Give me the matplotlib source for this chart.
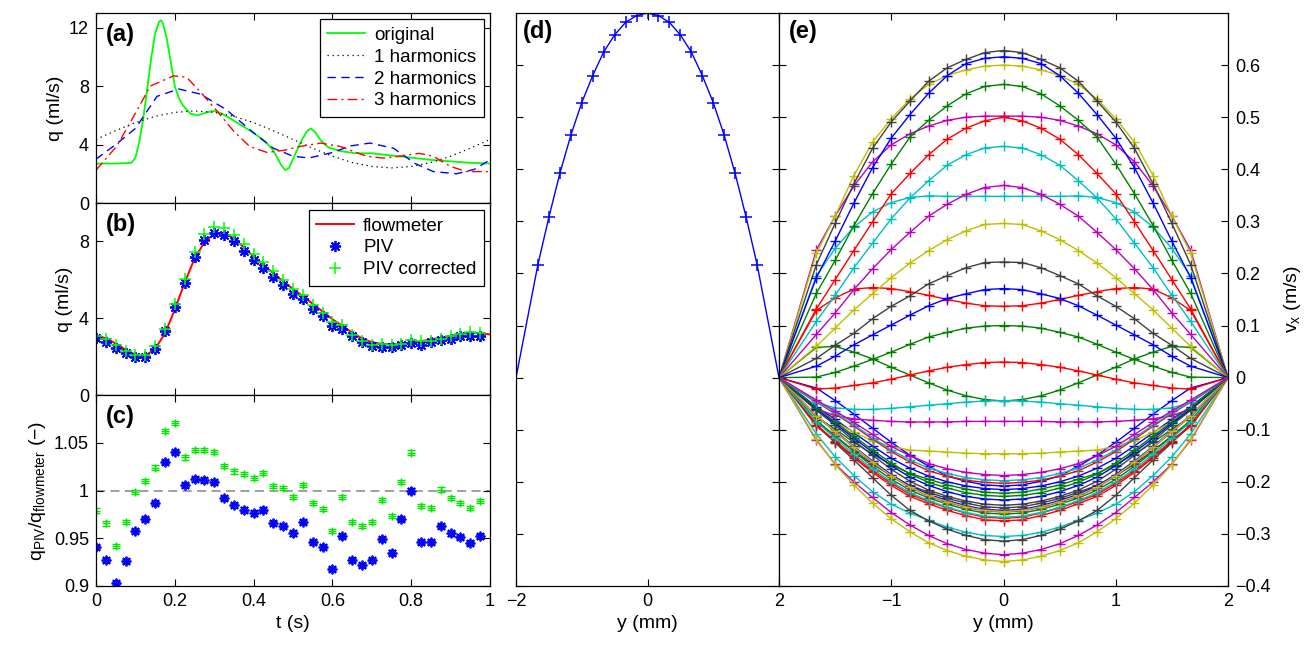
import numpy as np
import matplotlib
matplotlib.use('Agg')
import matplotlib.pyplot as plt

plt.rcParams['font.family'] = ['Liberation Sans', 'DejaVu Sans']
plt.rcParams['mathtext.default'] = 'regular'
plt.rcParams['axes.unicode_minus'] = True

# ---------------- panel (a): inlet flow rate and harmonic approximations
t_orig = [0.0, 0.05, 0.09, 0.10, 0.11, 0.12, 0.13, 0.14, 0.15, 0.16, 0.165, 0.17, 0.18, 0.19, 0.20,
          0.21, 0.22, 0.24, 0.26, 0.28, 0.30, 0.32, 0.34, 0.37, 0.40, 0.43, 0.45, 0.47, 0.48,
          0.49, 0.50, 0.52, 0.535, 0.545, 0.555, 0.57, 0.59, 0.62, 0.66, 0.70, 0.75, 0.80,
          0.85, 0.90, 0.95, 1.0]
q_orig = [2.7, 2.7, 2.75, 3.1, 4.2, 5.8, 7.8, 9.9, 11.6, 12.4, 12.5, 12.3, 11.2, 9.6, 8.0,
          7.2, 6.7, 6.1, 6.0, 6.2, 6.3, 6.1, 5.8, 5.3, 4.8, 4.2, 3.6, 2.6, 2.25,
          2.4, 3.0, 4.2, 4.9, 5.1, 4.9, 4.3, 3.8, 3.55, 3.4, 3.4, 3.25, 3.1,
          2.95, 2.85, 2.75, 2.7]
t_h1 = [0.0, 0.05, 0.10, 0.15, 0.20, 0.25, 0.30, 0.35, 0.40, 0.45, 0.50, 0.55, 0.60, 0.65,
        0.70, 0.75, 0.80, 0.85, 0.90, 0.95, 1.0]
q_h1 = [4.35, 4.95, 5.50, 5.93, 6.20, 6.30, 6.20, 5.93, 5.50, 4.95, 4.35, 3.75, 3.20, 2.77,
        2.50, 2.40, 2.50, 2.77, 3.20, 3.75, 4.35]
t_h2 = [0.0, 0.05, 0.10, 0.155, 0.21, 0.265, 0.33, 0.40, 0.45, 0.50, 0.54, 0.60, 0.645,
        0.695, 0.755, 0.81, 0.856, 0.915, 0.96, 1.0]
q_h2 = [3.0, 4.0, 5.1, 7.3, 7.8, 7.45, 6.4, 4.8, 3.75, 3.2, 3.08, 3.45, 3.9,
        4.1, 3.75, 2.7, 2.15, 2.0, 2.3, 2.95]
t_h3 = [0.0, 0.053, 0.095, 0.138, 0.197, 0.23, 0.265, 0.307, 0.35, 0.39, 0.434, 0.476,
        0.518, 0.57, 0.62, 0.687, 0.73, 0.77, 0.82, 0.856, 0.90, 0.94, 1.0]
q_h3 = [2.25, 3.9, 5.9, 8.0, 8.7, 8.6, 7.6, 6.3, 4.9, 3.87, 3.46, 3.6,
        3.87, 4.1, 3.87, 3.2, 3.07, 3.2, 3.4, 3.2, 2.5, 2.15, 2.15]

# ---------------- panel (b): flowmeter vs PIV
t_flow = [0.0, 0.025, 0.05, 0.075, 0.1, 0.125, 0.15, 0.175, 0.2, 0.225, 0.25, 0.275, 0.3,
          0.325, 0.35, 0.375, 0.4, 0.425, 0.45, 0.475, 0.5, 0.525, 0.55, 0.575, 0.6, 0.625,
          0.65, 0.675, 0.7, 0.725, 0.75, 0.775, 0.8, 0.825, 0.85, 0.875, 0.9, 0.925, 0.95,
          0.975, 1.0]
q_flow = [3.12, 2.95, 2.68, 2.36, 2.1, 2.05, 2.4, 3.2, 4.45, 5.85, 7.1, 7.95, 8.4,
          8.45, 8.15, 7.7, 7.2, 6.75, 6.35, 5.92, 5.52, 5.15, 4.75, 4.35, 3.95, 3.6,
          3.25, 2.95, 2.75, 2.66, 2.65, 2.67, 2.72, 2.8, 2.9, 2.98, 3.07, 3.17, 3.24,
          3.22, 3.15]
t_piv = np.round(np.arange(40) * 0.025, 3)
q_piv = [2.97, 2.76, 2.45, 2.18, 2.0, 2.0, 2.41, 3.32, 4.59, 5.85, 7.2, 8.05, 8.42, 8.35,
         8.0, 7.51, 7.02, 6.64, 6.17, 5.71, 5.27, 4.98, 4.5, 4.1, 3.58, 3.46, 3.06, 2.74,
         2.53, 2.5, 2.5, 2.59, 2.71, 2.62, 2.76, 2.85, 2.93, 3.06, 3.09, 3.06]
q_piv_corr = [3.06, 2.92, 2.59, 2.27, 2.1, 2.1, 2.53, 3.46, 4.72, 6.06, 7.46, 8.38, 8.73, 8.68,
              8.35, 7.86, 7.34, 6.95, 6.46, 5.97, 5.5, 5.19, 4.68, 4.28, 3.79, 3.62, 3.14, 2.79,
              2.62, 2.65, 2.62, 2.67, 2.88, 2.79, 2.83, 2.92, 3.06, 3.2, 3.27, 3.23]

# ---------------- panel (c): ratio PIV / flowmeter
ratio_piv = [0.941, 0.927, 0.903, 0.926, 0.958, 0.970, 0.987, 1.030, 1.040, 1.0055, 1.012, 1.011,
             1.009, 0.992, 0.985, 0.980, 0.976, 0.980, 0.966, 0.963, 0.955, 0.967, 0.946, 0.941,
             0.918, 0.952, 0.927, 0.922, 0.927, 0.949, 0.935, 0.970, 1.000, 0.946, 0.946, 0.963,
             0.955, 0.951, 0.945, 0.952]
ratio_corr = [0.979, 0.9655, 0.9415, 0.967, 0.9985, 1.010, 1.024, 1.0627, 1.071, 1.0346, 1.0425,
              1.042, 1.040, 1.026, 1.020, 1.017, 1.013, 1.018, 1.0045, 1.003, 0.9935, 1.006,
              0.9866, 0.981, 0.9575, 0.9935, 0.967, 0.9627, 0.967, 0.990, 0.973, 1.009, 1.0397,
              0.984, 0.982, 1.001, 0.992, 0.9866, 0.9815, 0.989]
ratio_err = 0.0022

# ---------------- panels (d), (e): velocity profiles (half profiles, centre -> wall)
y_half = [0.0, 0.167, 0.333, 0.5, 0.667, 0.833, 1.0, 1.167, 1.333, 1.5, 1.667]
y_wall = 2.0
vx_steady = [0.700, 0.695, 0.682, 0.658, 0.625, 0.580, 0.528, 0.465, 0.392, 0.308, 0.217]

vx_t000_t225 = [
    [-0.215, -0.213, -0.208, -0.200, -0.189, -0.174, -0.155, -0.131, -0.106, -0.080, -0.056],
    [-0.222, -0.220, -0.214, -0.206, -0.195, -0.184, -0.167, -0.147, -0.124, -0.099, -0.075],
    [-0.275, -0.273, -0.265, -0.255, -0.242, -0.228, -0.207, -0.182, -0.154, -0.123, -0.093],
    [-0.305, -0.303, -0.297, -0.287, -0.274, -0.260, -0.243, -0.219, -0.188, -0.152, -0.108],
    [-0.340, -0.337, -0.330, -0.319, -0.303, -0.283, -0.259, -0.230, -0.200, -0.166, -0.120],
    [-0.353, -0.350, -0.343, -0.332, -0.317, -0.296, -0.271, -0.241, -0.206, -0.167, -0.118],
    [-0.314, -0.311, -0.303, -0.291, -0.275, -0.255, -0.226, -0.192, -0.158, -0.125, -0.090],
    [-0.208, -0.206, -0.199, -0.189, -0.170, -0.149, -0.124, -0.097, -0.070, -0.044, -0.020],
    [-0.045, -0.042, -0.035, -0.024, -0.010, 0.005, 0.020, 0.036, 0.049, 0.060, 0.058],
    [0.137, 0.138, 0.143, 0.150, 0.158, 0.165, 0.171, 0.173, 0.170, 0.153, 0.129],
]
vx_t250_t475 = [
    [0.348, 0.348, 0.348, 0.348, 0.349, 0.346, 0.336, 0.318, 0.289, 0.248, 0.195],
    [0.502, 0.502, 0.500, 0.494, 0.483, 0.468, 0.447, 0.414, 0.368, 0.310, 0.245],
    [0.600, 0.598, 0.591, 0.580, 0.563, 0.535, 0.497, 0.452, 0.388, 0.310, 0.239],
    [0.628, 0.624, 0.611, 0.595, 0.569, 0.531, 0.491, 0.440, 0.372, 0.296, 0.217],
    [0.616, 0.613, 0.603, 0.580, 0.546, 0.505, 0.460, 0.403, 0.335, 0.262, 0.192],
    [0.563, 0.559, 0.545, 0.522, 0.494, 0.462, 0.410, 0.353, 0.292, 0.225, 0.162],
    [0.500, 0.493, 0.479, 0.458, 0.428, 0.392, 0.353, 0.299, 0.244, 0.188, 0.132],
    [0.444, 0.441, 0.428, 0.408, 0.378, 0.345, 0.305, 0.258, 0.211, 0.158, 0.108],
    [0.369, 0.365, 0.352, 0.333, 0.310, 0.279, 0.246, 0.209, 0.169, 0.124, 0.083],
    [0.296, 0.294, 0.282, 0.265, 0.244, 0.220, 0.192, 0.161, 0.130, 0.095, 0.060],
]
vx_t500_t725 = [
    [0.222, 0.221, 0.211, 0.196, 0.180, 0.157, 0.137, 0.113, 0.085, 0.062, 0.037],
    [0.171, 0.169, 0.161, 0.152, 0.138, 0.120, 0.101, 0.082, 0.063, 0.041, 0.022],
    [0.100, 0.099, 0.095, 0.087, 0.078, 0.064, 0.049, 0.035, 0.022, 0.010, 0.001],
    [0.030, 0.029, 0.025, 0.020, 0.013, 0.005, -0.003, -0.010, -0.015, -0.020, -0.022],
    [-0.044, -0.045, -0.047, -0.050, -0.053, -0.056, -0.059, -0.061, -0.061, -0.058, -0.048],
    [-0.084, -0.084, -0.084, -0.085, -0.085, -0.085, -0.084, -0.082, -0.079, -0.073, -0.060],
    [-0.146, -0.146, -0.145, -0.143, -0.141, -0.139, -0.132, -0.121, -0.105, -0.085, -0.062],
    [-0.250, -0.248, -0.241, -0.232, -0.220, -0.207, -0.188, -0.166, -0.140, -0.112, -0.085],
    [-0.255, -0.253, -0.246, -0.236, -0.224, -0.208, -0.186, -0.160, -0.132, -0.102, -0.073],
    [-0.262, -0.260, -0.253, -0.243, -0.231, -0.216, -0.195, -0.170, -0.142, -0.112, -0.082],
]
vx_t750_t975 = [
    [-0.270, -0.268, -0.260, -0.250, -0.238, -0.224, -0.203, -0.179, -0.151, -0.121, -0.091],
    [-0.268, -0.266, -0.259, -0.249, -0.236, -0.221, -0.200, -0.175, -0.147, -0.116, -0.085],
    [-0.258, -0.256, -0.249, -0.239, -0.227, -0.211, -0.189, -0.163, -0.134, -0.104, -0.074],
    [-0.257, -0.255, -0.248, -0.238, -0.226, -0.210, -0.188, -0.162, -0.133, -0.103, -0.073],
    [-0.245, -0.243, -0.237, -0.228, -0.216, -0.199, -0.176, -0.149, -0.121, -0.091, -0.063],
    [-0.235, -0.233, -0.228, -0.219, -0.207, -0.191, -0.169, -0.143, -0.116, -0.088, -0.060],
    [-0.228, -0.226, -0.221, -0.212, -0.201, -0.185, -0.164, -0.139, -0.112, -0.085, -0.058],
    [-0.203, -0.201, -0.197, -0.189, -0.179, -0.162, -0.142, -0.118, -0.093, -0.069, -0.047],
    [-0.198, -0.196, -0.192, -0.184, -0.174, -0.158, -0.139, -0.115, -0.091, -0.067, -0.046],
    [-0.188, -0.186, -0.182, -0.175, -0.165, -0.150, -0.132, -0.109, -0.086, -0.064, -0.043],
]

matlab_colors = [(0, 0, 1), (0, 0.5, 0), (1, 0, 0), (0, 0.75, 0.75),
                 (0.75, 0, 0.75), (0.75, 0.75, 0), (0.25, 0.25, 0.25)]

TICK_FS = 13
LABEL_FS = 14
PANEL_FS = 17
LEG_FS = 13.5

# ---------------- figure
W, H = 1312, 646
fig = plt.figure(figsize=(W / 100, H / 100), dpi=100)


def px_axes(l, t, r, b):
    return fig.add_axes([l / W, 1 - b / H, (r - l) / W, (b - t) / H])


def style(ax):
    ax.tick_params(direction='in', top=True, right=True, length=5, width=0.8,
                   labelsize=TICK_FS, pad=5)
    for s in ax.spines.values():
        s.set_linewidth(0.9)


def mirror(half):
    return list(-np.array(half[::-1])) + list(half[1:])


def mirror_vals(half):
    return list(half[::-1]) + list(half[1:])


ax_a = px_axes(96, 13, 490, 203)
ax_b = px_axes(96, 203, 490, 395)
ax_c = px_axes(96, 395, 490, 586)
ax_d = px_axes(516, 13, 779, 586)
ax_e = px_axes(779, 13, 1228, 586)
for ax in (ax_a, ax_b, ax_c, ax_d, ax_e):
    style(ax)

leg_kw = dict(loc='upper right', borderaxespad=0, fontsize=LEG_FS, frameon=True,
              fancybox=False, edgecolor='k', framealpha=1, handlelength=2.0,
              handletextpad=0.5, labelspacing=0.25, borderpad=0.4)

# (a)
ax_a.plot(t_orig, q_orig, color=(0, 1, 0), lw=1.3, label='original')
ax_a.plot(t_h1, q_h1, color='k', lw=0.9, ls=(0, (1, 3)), label='1 harmonics')
ax_a.plot(t_h2, q_h2, color=(0, 0, 1), lw=1.0, ls=(0, (6, 4)), label='2 harmonics')
ax_a.plot(t_h3, q_h3, color=(1, 0, 0), lw=1.0, ls=(0, (7, 3, 1.5, 3)), label='3 harmonics')
ax_a.set_xlim(0, 1)
ax_a.set_ylim(0, 13)
ax_a.set_yticks([0, 4, 8, 12])
ax_a.set_xticks([0, 0.2, 0.4, 0.6, 0.8, 1.0])
ax_a.tick_params(labelbottom=False)
ax_a.set_ylabel('q (ml/s)', fontsize=LABEL_FS)
ax_a.text(0.026, 0.95, '(a)', transform=ax_a.transAxes, fontsize=PANEL_FS,
          fontweight='bold', va='top')
leg = ax_a.legend(bbox_to_anchor=(0.985, 0.967), **leg_kw)
leg.get_frame().set_linewidth(0.9)

# (b)
ax_b.plot(t_flow, q_flow, color=(1, 0, 0), lw=1.4, label='flowmeter')
ax_b.plot(t_piv, q_piv, ls='none', marker=(8, 2, 0), ms=8, mew=1.3,
          color=(0, 0, 1), label='PIV')
ax_b.plot(t_piv, q_piv_corr, ls='none', marker='+', ms=9, mew=1.1,
          color=(0, 1, 0), label='PIV corrected')
ax_b.set_xlim(0, 1)
ax_b.set_ylim(0, 10)
ax_b.set_yticks([0, 4, 8])
ax_b.set_xticks([0, 0.2, 0.4, 0.6, 0.8, 1.0])
ax_b.tick_params(labelbottom=False)
ax_b.set_ylabel('q (ml/s)', fontsize=LABEL_FS)
ax_b.text(0.026, 0.95, '(b)', transform=ax_b.transAxes, fontsize=PANEL_FS,
          fontweight='bold', va='top')
leg = ax_b.legend(bbox_to_anchor=(0.985, 0.964), numpoints=1, **leg_kw)
leg.get_frame().set_linewidth(0.9)

# (c)
ax_c.axhline(1.0, color=(0.6, 0.6, 0.6), ls=(0, (5, 3)), lw=1.3, zorder=1)
ax_c.errorbar(t_piv, ratio_piv, yerr=ratio_err, fmt='none', ecolor=(0, 0, 1),
              elinewidth=1, capsize=3, capthick=1)
ax_c.plot(t_piv, ratio_piv, ls='none', marker=(8, 2, 0), ms=7, mew=1.3, color=(0, 0, 1))
ax_c.errorbar(t_piv, ratio_corr, yerr=ratio_err, fmt='none', ecolor=(0, 0.9, 0),
              elinewidth=1, capsize=3, capthick=1)
ax_c.plot(t_piv, ratio_corr, ls='none', marker='+', ms=6, mew=1.0, color=(0, 0.9, 0))
ax_c.set_xlim(0, 1)
ax_c.set_ylim(0.9, 1.1)
ax_c.set_yticks([0.9, 0.95, 1.0, 1.05])
ax_c.set_yticklabels(['0.9', '0.95', '1', '1.05'])
ax_c.set_xticks([0, 0.2, 0.4, 0.6, 0.8, 1.0])
ax_c.set_xticklabels(['0', '0.2', '0.4', '0.6', '0.8', '1'])
ax_c.set_ylabel(r'$q_{PIV}/q_{flowmeter}$ (−)', fontsize=LABEL_FS)
ax_c.set_xlabel('t (s)', fontsize=LABEL_FS)
ax_c.text(0.026, 0.95, '(c)', transform=ax_c.transAxes, fontsize=PANEL_FS,
          fontweight='bold', va='top')

# (d)
y_pts = mirror(y_half)
y_line = [-y_wall] + y_pts + [y_wall]
v_pts = mirror_vals(vx_steady)
ax_d.plot(y_line, [0] + v_pts + [0], color=(0, 0, 1), lw=1.0)
ax_d.plot(y_pts, v_pts, ls='none', marker='+', ms=8, mew=1.1, color=(0, 0, 1))
ax_d.set_xlim(-2, 2)
ax_d.set_ylim(-0.4, 0.7)
ax_d.set_xticks([-2, 0, 2])
ax_d.set_xticklabels(['−2', '0', '2'])
ax_d.set_yticks([-0.4, -0.3, -0.2, -0.1, 0, 0.1, 0.2, 0.3, 0.4, 0.5, 0.6])
ax_d.tick_params(labelleft=False)
ax_d.set_xlabel('y (mm)', fontsize=LABEL_FS)
ax_d.text(0.025, 0.988, '(d)', transform=ax_d.transAxes, fontsize=PANEL_FS,
          fontweight='bold', va='top')

# (e)
profiles = vx_t000_t225 + vx_t250_t475 + vx_t500_t725 + vx_t750_t975
for i, half in enumerate(profiles):
    col = matlab_colors[i % len(matlab_colors)]
    v = mirror_vals(half)
    ax_e.plot(y_line, [0] + v + [0], color=col, lw=1.0)
    ax_e.plot(y_pts, v, ls='none', marker='+', ms=7, mew=1.0, color=col)
ax_e.set_xlim(-2, 2)
ax_e.set_ylim(-0.4, 0.7)
ax_e.set_xticks([-2, -1, 0, 1, 2])
ax_e.set_xticklabels(['', '−1', '0', '1', '2'])
ax_e.set_yticks([-0.4, -0.3, -0.2, -0.1, 0, 0.1, 0.2, 0.3, 0.4, 0.5, 0.6])
ax_e.set_yticklabels(['−0.4', '−0.3', '−0.2', '−0.1', '0', '0.1', '0.2', '0.3',
                      '0.4', '0.5', '0.6'])
ax_e.tick_params(labelleft=False, labelright=True)
ax_e.yaxis.set_label_position('right')
ax_e.set_ylabel(r'$v_x$ (m/s)', fontsize=LABEL_FS, labelpad=8)
ax_e.set_xlabel('y (mm)', fontsize=LABEL_FS)
ax_e.text(0.022, 0.988, '(e)', transform=ax_e.transAxes, fontsize=PANEL_FS,
          fontweight='bold', va='top')

fig.savefig('out.png', dpi=100)
